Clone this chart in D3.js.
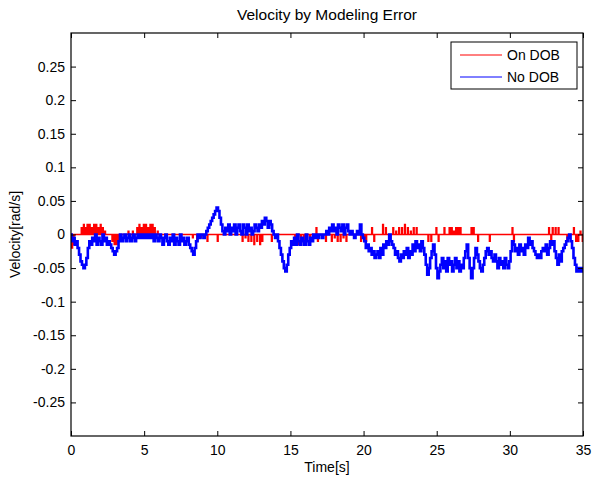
<!DOCTYPE html>
<html>
<head>
<meta charset="utf-8">
<script src="https://cdn.jsdelivr.net/npm/d3@7"></script>
<style>
  body { margin: 0; background: #fff; }
  text { font-family: "Liberation Sans", Arial, Helvetica, sans-serif; font-size: 14px; fill: #000; }
</style>
</head>
<body>
<svg id="chart" width="605" height="477"></svg>
<script>
'use strict';

// ========== data

const x_ticks = [0, 5, 10, 15, 20, 25, 30, 35];
const y_ticks = [-0.25, -0.2, -0.15, -0.1, -0.05, 0, 0.05, 0.1, 0.15, 0.2, 0.25];

// No DOB, one sample every 0.1 s, one row per second
const sample_dt = 0.1;
const no_dob = [
  0, -0.01, -0.005, -0.015, -0.01, -0.02, -0.03, -0.04, -0.045, -0.05,          // 0
  -0.045, -0.035, -0.02, -0.01, -0.015, -0.005, -0.01, 0, -0.015, -0.005,       // 1
  -0.01, -0.015, 0, -0.01, -0.005, -0.015, -0.01, -0.015, -0.02, -0.025,        // 2
  -0.03, -0.025, -0.02, -0.01, 0, -0.01, -0.005, 0, -0.01, -0.005,              // 3
  0, -0.01, -0.005, 0, -0.01, -0.005, 0, -0.005, 0, -0.005,                     // 4
  0, -0.005, 0, -0.005, 0, -0.005, 0, -0.01, 0, -0.005,                         // 5
  -0.01, 0, -0.005, -0.015, -0.005, 0, -0.01, -0.015, -0.005, -0.01,            // 6
  0, -0.015, -0.005, -0.01, -0.015, 0, -0.01, -0.005, -0.015, -0.01,            // 7
  -0.005, -0.015, -0.02, -0.025, -0.03, -0.02, -0.01, 0, -0.005, 0,             // 8
  0, -0.005, 0, 0.005, 0.01, 0.015, 0.02, 0.025, 0.03, 0.035,                   // 9
  0.04, 0.035, 0.025, 0.015, 0.005, 0, 0.01, 0.005, 0.015, 0,                   // 10
  0.01, 0.005, 0.015, 0, 0.01, 0.015, 0.005, 0, 0.015, 0.01,                    // 11
  0, 0.015, 0.005, 0.01, 0, 0.005, 0.015, 0.01, 0.005, 0.015,                   // 12
  0.01, 0.02, 0.015, 0.025, 0.02, 0.01, 0.02, 0.015, 0.005, 0,                  // 13
  -0.005, 0, -0.01, -0.02, -0.03, -0.04, -0.05, -0.055, -0.045, -0.03,          // 14
  -0.02, -0.01, -0.015, -0.005, -0.015, 0, -0.01, -0.015, -0.005, -0.01,        // 15
  -0.015, 0, -0.01, -0.015, -0.005, -0.01, 0, -0.005, 0, -0.005,                // 16
  0, 0, -0.005, 0, 0, 0.005, 0, 0.01, 0.005, 0.015,                             // 17
  0.005, 0.01, 0, 0.015, 0.01, 0.005, 0.015, 0, 0.01, 0.015,                    // 18
  0.005, 0, 0.005, 0, -0.005, 0, 0.005, 0, 0.015, 0,                            // 19
  -0.005, -0.01, -0.02, -0.015, -0.025, -0.02, -0.03, -0.025, -0.035, -0.03,    // 20
  -0.025, -0.035, -0.02, -0.03, -0.015, -0.02, -0.01, -0.015, 0, -0.01,         // 21
  -0.015, -0.02, -0.03, -0.025, -0.035, -0.04, -0.03, -0.035, -0.025, -0.03,    // 22
  -0.02, -0.035, -0.025, -0.03, -0.015, -0.025, -0.01, -0.02, -0.015, -0.025,   // 23
  -0.01, -0.02, -0.03, -0.045, -0.06, -0.05, -0.035, -0.025, -0.015, -0.03,     // 24
  -0.05, -0.065, -0.055, -0.045, -0.035, -0.05, -0.04, -0.055, -0.035, -0.045,  // 25
  -0.04, -0.055, -0.045, -0.035, -0.05, -0.04, -0.055, -0.045, -0.05, -0.035,   // 26
  -0.025, -0.015, -0.035, -0.05, -0.065, -0.05, -0.035, -0.02, -0.03, -0.04,    // 27
  -0.05, -0.055, -0.045, -0.035, -0.025, -0.02, -0.03, -0.025, -0.035, -0.04,   // 28
  -0.03, -0.04, -0.05, -0.035, -0.045, -0.04, -0.05, -0.035, -0.045, -0.05,     // 29
  -0.04, -0.025, -0.01, -0.015, -0.025, -0.02, -0.03, -0.015, -0.025, -0.02,    // 30
  -0.03, -0.015, -0.02, -0.005, -0.015, -0.01, -0.02, -0.025, -0.03, -0.035,    // 31
  -0.03, -0.035, -0.025, -0.02, -0.025, -0.015, -0.03, -0.02, -0.01, -0.015,    // 32
  -0.01, -0.025, -0.035, -0.045, -0.03, -0.04, -0.025, -0.02, -0.015, -0.01,    // 33
  -0.005, 0, -0.01, -0.02, -0.035, -0.045, -0.055, -0.05, -0.055, -0.05,        // 34
  -0.055                                                                        // 35
];

// On DOB stays at 0 except short spikes [time, value]
const on_dob_spikes = [
  [0.05, -0.02], [0.15, -0.015],
  [0.7, 0.01], [0.85, 0.015], [1.0, 0.01], [1.1, 0.015], [1.25, 0.015], [1.4, 0.01],
  [1.55, 0.015], [1.7, 0.015], [1.85, 0.01], [2.0, 0.015], [2.15, 0.01], [2.3, 0.005],
  [2.8, -0.01], [2.95, -0.015], [3.1, -0.015], [3.25, -0.01],
  [3.9, 0.005], [4.2, 0.005],
  [4.5, 0.01], [4.65, 0.015], [4.8, 0.01], [4.95, 0.015], [5.1, 0.015], [5.25, 0.01],
  [5.4, 0.015], [5.55, 0.015], [5.7, 0.01], [5.9, 0.005],
  [8.3, -0.005], [8.6, -0.01], [8.85, -0.005], [9.3, -0.01], [10.0, -0.01],
  [11.7, -0.01], [11.9, -0.005], [12.1, -0.01], [12.3, -0.01], [12.5, -0.015],
  [12.7, -0.01], [12.9, -0.015], [13.05, -0.01],
  [13.7, -0.01], [13.95, -0.005],
  [15.3, -0.01], [15.5, -0.015], [15.7, -0.01], [15.9, -0.015], [16.1, -0.01],
  [16.3, -0.015], [16.5, -0.01],
  [16.75, 0.01], [16.85, -0.01], [17.4, -0.01],
  [17.8, -0.01], [18.0, -0.005], [18.2, -0.01], [18.4, -0.01], [18.6, -0.005], [18.8, -0.01],
  [19.8, -0.01], [20.0, -0.005], [20.15, -0.01],
  [20.55, 0.01], [20.7, -0.01],
  [21.3, 0.015], [21.5, 0.01],
  [22.0, 0.01], [22.2, 0.005], [22.4, 0.01], [22.6, 0.01], [22.8, 0.015], [23.0, 0.01],
  [23.2, 0.005], [23.4, 0.01], [23.6, 0.01],
  [24.4, -0.01], [24.6, -0.01], [24.95, 0.01], [25.1, -0.01], [25.5, 0.01],
  [25.85, 0.01], [26.0, 0.01], [26.15, 0.005], [26.3, 0.01], [26.45, 0.01], [26.6, 0.01],
  [27.35, 0.01], [27.5, 0.01], [27.8, -0.01], [28.6, -0.01],
  [30.15, 0.01], [30.25, -0.01],
  [32.65, 0.01], [32.8, -0.01], [32.9, 0.01], [33.1, 0.01], [33.3, 0.01], [33.9, -0.01],
  [34.35, 0.01], [34.5, -0.01], [34.65, -0.01], [34.8, 0.005], [34.95, -0.01]
];

const series = [
  { name: 'On DOB', color: '#ff0000' },
  { name: 'No DOB', color: '#0000ff' }
];

// ========== layout

const margin = { top: 33, right: 22, bottom: 41, left: 71 };
const width = 605 - margin.left - margin.right;
const height = 477 - margin.top - margin.bottom;

const svg = d3.select('#chart');
const g = svg.append('g')
  .attr('transform', `translate(${margin.left},${margin.top})`);

const x = d3.scaleLinear().domain([0, 35]).range([0, width]);
const y = d3.scaleLinear().domain([-0.3, 0.3]).range([height, 0]);

g.append('clipPath').attr('id', 'plot-clip')
  .append('rect').attr('width', width).attr('height', height);

// ========== lines

// red: baseline at 0 with narrow spikes
const spike_w = 0.06;
const red_pts = [[0, 0]];
on_dob_spikes.forEach(function(s) {
  red_pts.push([s[0], 0], [s[0], s[1]], [s[0] + spike_w, s[1]], [s[0] + spike_w, 0]);
});
red_pts.push([35, 0]);

const line = d3.line()
  .x(function(d) { return x(d[0]); })
  .y(function(d) { return y(d[1]); });

const plot = g.append('g').attr('clip-path', 'url(#plot-clip)');

plot.append('path')
  .attr('d', line(red_pts))
  .attr('fill', 'none')
  .attr('stroke', series[0].color)
  .attr('stroke-width', 1.4);

const blue_pts = no_dob.map(function(v, i) { return [i * sample_dt, v]; });
plot.append('path')
  .attr('d', line.curve(d3.curveStep)(blue_pts))
  .attr('fill', 'none')
  .attr('stroke', series[1].color)
  .attr('stroke-width', 2.6);

// ========== axes (MATLAB style, ticks inside on all four sides)

const fmt = function(d) { return String(d); };

g.append('g')
  .attr('transform', `translate(0,${height})`)
  .call(d3.axisBottom(x).tickValues(x_ticks).tickFormat(fmt).tickSizeInner(-5).tickSizeOuter(0).tickPadding(9));
g.append('g')
  .call(d3.axisTop(x).tickValues(x_ticks).tickFormat('').tickSizeInner(-5).tickSizeOuter(0));
g.append('g')
  .call(d3.axisLeft(y).tickValues(y_ticks).tickFormat(fmt).tickSizeInner(-5).tickSizeOuter(0).tickPadding(6));
g.append('g')
  .attr('transform', `translate(${width},0)`)
  .call(d3.axisRight(y).tickValues(y_ticks).tickFormat('').tickSizeInner(-5).tickSizeOuter(0));

g.selectAll('.domain').remove();
g.selectAll('.tick line').attr('stroke', '#000');
g.selectAll('.tick text').attr('font-size', 14).attr('font-family', null);

g.append('rect')
  .attr('width', width).attr('height', height)
  .attr('fill', 'none').attr('stroke', '#000').attr('stroke-width', 1.2);

// ========== texts

g.append('text')
  .attr('x', width / 2).attr('y', -13)
  .attr('text-anchor', 'middle')
  .style('font-size', '15.5px')
  .text('Velocity by Modeling Error');

g.append('text')
  .attr('x', width / 2).attr('y', height + 36)
  .attr('text-anchor', 'middle')
  .text('Time[s]');

g.append('text')
  .attr('transform', `translate(${-51},${height / 2}) rotate(-90)`)
  .attr('text-anchor', 'middle')
  .text('Velocity[rad/s]');

// ========== legend

const legend = g.append('g').attr('transform', `translate(${width - 132},9)`);
legend.append('rect')
  .attr('width', 126).attr('height', 47)
  .attr('fill', '#fff').attr('stroke', '#000').attr('stroke-width', 1);

series.forEach(function(s, i) {
  const yy = 13 + i * 22;
  legend.append('line')
    .attr('x1', 9).attr('x2', 51)
    .attr('y1', yy).attr('y2', yy)
    .attr('stroke', s.color).attr('stroke-width', 1);
  legend.append('text')
    .attr('x', 56).attr('y', yy + 5)
    .text(s.name);
});
</script>
</body>
</html>
